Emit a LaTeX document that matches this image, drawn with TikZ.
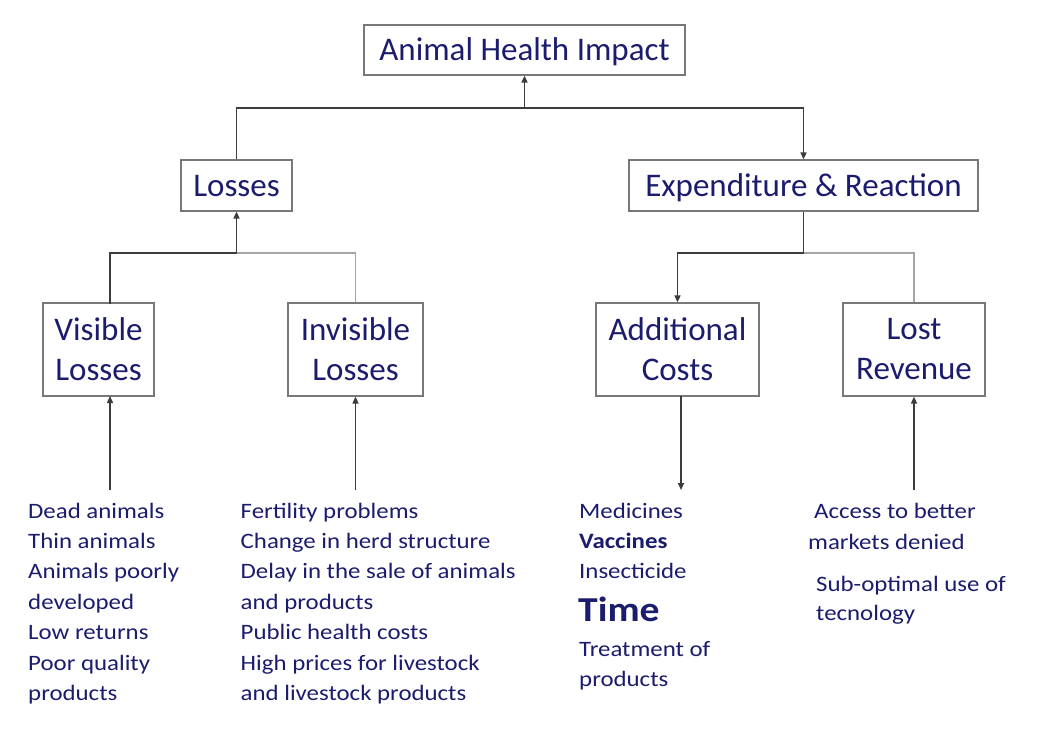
\documentclass[tikz,border=0pt]{standalone}
\usepackage{fontspec}
\setmainfont{Carlito}
\newfontfamily\listfont[FakeStretch=1.13]{Carlito}
\usetikzlibrary{arrows.meta}
\definecolor{navy}{RGB}{28,28,110}
\definecolor{boxgray}{RGB}{120,120,120}
\definecolor{linedark}{RGB}{60,60,60}
\definecolor{linelight}{RGB}{165,165,165}
\tikzset{
  box/.style={draw=boxgray, line width=1.2pt, fill=white, text=navy, align=center,
    inner sep=0pt, font=\fontsize{33}{40}\selectfont},
  onebox/.style={box, text height=21.5pt, text depth=0pt},
  conn/.style={draw=linedark, line width=1.5pt},
  connlight/.style={draw=linelight, line width=1.5pt},
  arr/.style={conn, -{Triangle[length=7pt,width=6pt]}},
  listtext/.style={anchor=base west, inner sep=0pt, text=navy, align=left,
    font=\listfont\fontsize{22}{30.4}\selectfont}
}
\begin{document}
\begin{tikzpicture}[x=1pt,y=-1pt]
\useasboundingbox[fill=white] (0,0) rectangle (1062,730);
% boxes
\node[onebox, minimum width=321pt, minimum height=50pt] (ahi) at (524.5,50) {Animal Health Impact};
\node[onebox, minimum width=111pt, minimum height=51pt] (los) at (236.5,185.5) {Losses};
\node[onebox, minimum width=349pt, minimum height=51pt] (exp) at (803.5,185.5) {Expenditure \& Reaction};
\node[box, minimum width=111pt, minimum height=93pt] (vis) at (98.5,349.5) {Visible\\Losses};
\node[box, minimum width=135pt, minimum height=93pt] (inv) at (355.5,349.5) {Invisible\\Losses};
\node[box, minimum width=163pt, minimum height=93pt] (addc) at (677.5,349.5) {Additional\\Costs};
\node[box, minimum width=142pt, minimum height=93pt] (lost) at (914,349.5) {Lost\\Revenue};
% junctions and free ends
\coordinate (j1) at (524.5,108);
\coordinate (j2) at (236.5,253);
\coordinate (j3) at (803.5,253);
\coordinate (vt) at (110,303.5);
\coordinate (vb) at (110,396);
\coordinate (vfree) at (110,490);
\coordinate (ifree) at (355.5,490);
\coordinate (at) at (681,396);
\coordinate (afree) at (681,490);
\coordinate (lfree) at (914,490);
% connectors top level
\draw[conn] (los.north) |- (j1);
\draw[arr] (j1) -- (ahi.south);
\draw[arr] (j1) -| (exp.north);
% losses level
\draw[arr] (j2) -- (los.south);
\draw[conn] (j2) -| (vt);
\draw[connlight] (j2) -| (inv.north);
% expenditure level
\draw[conn] (exp.south) -- (j3);
\draw[arr] (j3) -| (addc.north);
\draw[connlight] (j3) -| (lost.north);
% bottom arrows
\draw[arr] (vfree) -- (vb);
\draw[arr] (ifree) -- (inv.south);
\draw[arr] (at) -- (afree);
\draw[arr] (lfree) -- (lost.south);
% lists (base anchor = baseline of the last line)
\node[listtext] (l1) at (28,700.4) {Dead animals\\Thin animals\\Animals poorly\\developed\\Low returns\\Poor quality\\products};
\node[listtext] (l2) at (240.5,700.4) {Fertility problems\\Change in herd structure\\Delay in the sale of animals\\and products\\Public health costs\\High prices for livestock\\and livestock products};
\node[listtext] (l3) at (579,578.8) {Medicines\\\textbf{Vaccines}\\Insecticide};
\node[anchor=base west, inner sep=0pt, text=navy, font=\listfont\bfseries\fontsize{35}{40}\selectfont] (l4) at (578,621.7) {Time};
\node[listtext] (l5) at (579,686.7) {Treatment of\\products};
\node[listtext] (l6) at (808,549) {\hspace*{6pt}Access to better\\markets denied};
\node[listtext, font=\listfont\fontsize{22}{28.5}\selectfont] (l7) at (816,620) {Sub-optimal use of\\tecnology};
\end{tikzpicture}
\end{document}
